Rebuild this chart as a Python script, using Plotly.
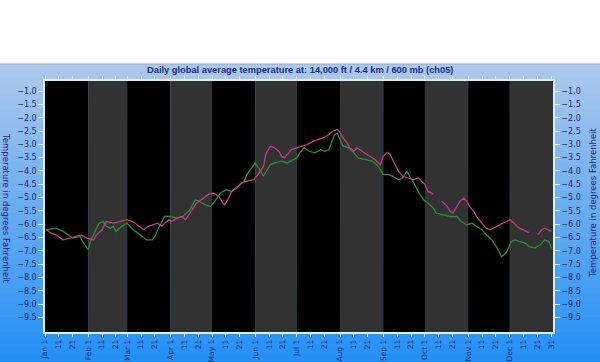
import plotly.graph_objects as go

# ---------------- data ----------------
month_names = ["Jan", "Feb", "Mar", "Apr", "May", "Jun", "Jul", "Aug", "Sep", "Oct", "Nov", "Dec"]
month_start_day = [1, 32, 60, 91, 121, 152, 182, 213, 244, 274, 305, 335]
year_end_day = 366

green_days = [2, 9, 14, 19, 21, 26, 28, 32, 34, 37, 40, 43, 45, 48, 50, 52, 56, 60, 62, 66, 69, 74, 78, 80, 82, 85, 87,
              91, 96, 100, 105, 109, 112, 116, 120, 123, 127, 129, 131, 135, 138, 141, 144, 146, 150, 152, 156, 158,
              160, 163, 166, 171, 175, 178, 182, 184, 187, 191, 195, 199, 202, 205, 207, 209, 211, 213, 215, 219,
              223, 226, 231, 236, 239, 242, 244, 248, 251, 255, 258, 261, 263, 266, 269, 273, 276, 280, 282, 287,
              292, 297, 300, 304, 308, 311, 315, 318, 322, 326, 329, 332, 334, 336, 339, 342, 346, 349, 353, 357,
              360, 363, 365]
green_vals = [-6.21, -6.15, -6.27, -6.46, -6.52, -6.46, -6.65, -6.96, -6.59, -6.27, -5.96, -5.90, -6.08, -6.15, -6.08,
              -6.27, -6.08, -5.96, -6.08, -6.27, -6.40, -6.59, -6.59, -6.46, -6.21, -5.90, -5.71,
              -5.71, -5.77, -5.71, -5.46, -5.08, -5.14, -5.27, -5.33, -5.14, -4.83, -4.77, -4.70, -4.77, -4.64, -4.51,
              -4.39, -4.14, -3.82, -3.70, -4.01, -4.20,
              -4.01, -3.76, -3.70, -3.63, -3.70, -3.63, -3.51, -3.32, -3.13, -3.26, -3.32, -3.20, -3.26, -3.20, -2.88,
              -2.63, -2.59, -2.82, -3.05, -3.13,
              -3.32, -3.51, -3.57, -3.63, -3.76, -3.95, -4.14, -4.14, -4.20, -4.33, -4.26, -4.01, -4.20, -4.45, -4.77,
              -5.08, -5.20, -5.39, -5.58, -5.64,
              -5.71, -5.71, -5.90, -6.02, -5.96, -6.08, -6.21, -6.39, -6.59, -6.90, -7.22, -7.09, -6.90, -6.65, -6.59,
              -6.65, -6.71, -6.84, -6.90, -6.77,
              -6.59, -6.65, -6.90]

pink_days = [2, 5, 9, 14, 19, 24, 27, 31, 36, 38, 42, 45, 50, 55, 60, 64, 69, 72, 75, 79, 82, 85, 87, 90, 92,
             96, 99, 102, 105, 110, 115, 118, 122, 126, 128, 130, 133, 135, 139, 142, 146, 151, 154, 158, 160, 163,
             166, 169, 171, 173, 176, 178, 182, 185, 189, 194, 197, 201, 205, 208, 211, 213, 215, 218, 220, 223,
             225, 227, 231, 235, 238, 242, 244, 247, 249, 252, 255, 258, 262, 266, 269, 272, 274, 276, 279, 280,
             283, 286, 290, 292, 294, 297, 299, 302, 304, 306, 309, 311, 315, 318, 321, 323, 327, 330, 333, 335,
             338, 340, 342, 345, 347, 349, 352, 355, 358, 360, 363, 365]
pink_vals = [-6.21, -6.33, -6.40, -6.59, -6.52, -6.46, -6.40, -6.52, -6.59, -6.40, -6.21, -5.90, -5.96, -5.90, -5.83,
             -5.90, -6.08, -6.21, -6.08, -6.02, -5.96, -6.08, -5.96, -5.83, -5.90,
             -5.77, -5.71, -5.83, -5.58, -5.20, -5.02, -4.89, -4.83, -4.96, -5.14, -5.27, -5.02, -4.77, -4.64, -4.45,
             -4.39, -4.33, -4.14, -3.82, -3.32, -3.07,
             -3.13, -3.26, -3.45, -3.51, -3.32, -3.20, -3.13, -3.07, -3.01, -2.88, -2.82, -2.75, -2.63, -2.50, -2.44,
             -2.54, -2.75, -2.94, -3.13, -3.26,
             -3.13, -3.20, -3.32, -3.45, -3.57, -3.76, -3.45, -3.30, -3.38, -3.70, -4.01, -4.20, -4.26, -4.33, -4.26,
             -4.39, -4.51, -4.77, -4.83, -4.89,
             None, -5.14, -5.33, -5.52, -5.58, -5.33, -5.14, -5.02, -5.14, -5.33, -5.52, -5.71, -5.96, -6.15, -6.21,
             -6.15, -6.02, -5.96, -5.90, -5.83,
             -5.96, -6.08, -6.15, -6.21, -6.27, -6.33, None, -6.39, -6.21, -6.15, -6.21, -6.27]

y_tick_vals = [-1.0, -1.5, -2.0, -2.5, -3.0, -3.5, -4.0, -4.5, -5.0, -5.5, -6.0, -6.5, -7.0, -7.5, -8.0, -8.5, -9.0, -9.5]
y_range = [-10.05, -0.62]
x_range = [1, 366]

title_text = "Daily global average temperature at: 14,000 ft / 4.4 km / 600 mb (ch05)"
y_title = "Temperature in degrees Fahrenheit"

# x ticks: 1st, 11th, 21st of each month + Dec 31
x_tick_vals, x_tick_text = [], []
for name, start in zip(month_names, month_start_day):
    x_tick_vals += [start, start + 10, start + 20]
    x_tick_text += [f"{name} 1", "11", "21"]
x_tick_vals.append(365)
x_tick_text.append("31")

# ---------------- layout geometry ----------------
W, H = 600, 362
ML, MR, MT, MB = 45, 47, 81, 30
PW, PH = W - ML - MR, H - MT - MB

def px_x(px):
    return (px - ML) / PW

def px_y(py):
    return (H - MB - py) / PH

NAVY = "#1c2878"
AXLINE = "#d8f0f0"

shapes = []
# blue gradient background
top_px, bot_px = 64, H
n = 40
c0 = (172, 200, 236)
c1 = (36, 144, 244)
for i in range(n):
    t = i / (n - 1)
    c = tuple(int(round(a + (b - a) * t)) for a, b in zip(c0, c1))
    y_a = top_px + (bot_px - top_px) * i / n
    y_b = top_px + (bot_px - top_px) * (i + 1) / n + 1
    shapes.append(dict(type="rect", xref="paper", yref="paper", layer="below",
                       x0=px_x(0), x1=px_x(W), y0=px_y(y_b), y1=px_y(y_a),
                       line=dict(width=0), fillcolor=f"rgb{c}"))
# thin border at top of blue area
shapes.append(dict(type="line", xref="paper", yref="paper", layer="below",
                   x0=px_x(0), x1=px_x(W), y0=px_y(top_px), y1=px_y(top_px),
                   line=dict(color="#9aa6b4", width=1)))
# alternating month bands
bounds = month_start_day + [year_end_day]
for i in range(len(month_names)):
    shapes.append(dict(type="rect", xref="x", yref="paper", layer="below",
                       x0=bounds[i], x1=bounds[i + 1], y0=0, y1=1,
                       line=dict(width=0),
                       fillcolor="#000000" if i % 2 == 0 else "#323232"))

fig = go.Figure()
fig.add_trace(go.Scatter(x=green_days, y=green_vals, mode="lines",
                         line=dict(color="#2f8c3a", width=1.3), connectgaps=False,
                         showlegend=False, hoverinfo="skip"))
fig.add_trace(go.Scatter(x=pink_days, y=pink_vals, mode="lines",
                         line=dict(color="#c43c84", width=1.3), connectgaps=False,
                         showlegend=False, hoverinfo="skip"))
# invisible trace so the right axis is drawn
fig.add_trace(go.Scatter(x=[x_range[0]], y=[y_range[0]], yaxis="y2", mode="markers",
                         marker=dict(opacity=0), showlegend=False, hoverinfo="skip"))

tick_font = dict(family="DejaVu Sans", size=8, color=NAVY)
x_tick_font = dict(family="DejaVu Sans", size=7.5, color=NAVY)

fig.update_layout(
    width=W, height=H,
    margin=dict(l=ML, r=MR, t=MT, b=MB, pad=0, autoexpand=False),
    paper_bgcolor="white",
    plot_bgcolor="rgba(0,0,0,0)",
    shapes=shapes,
    xaxis=dict(range=x_range, tickmode="array", tickvals=x_tick_vals, ticktext=x_tick_text,
               tickangle=-90, tickfont=x_tick_font, ticks="outside", ticklen=3, tickwidth=1,
               tickcolor=AXLINE, showline=True, linecolor=AXLINE, linewidth=1.5, mirror="ticks",
               showgrid=False, zeroline=False, automargin=False),
    yaxis=dict(range=y_range, tickmode="array", tickvals=y_tick_vals, tickformat=".1f",
               tickfont=tick_font, ticks="outside", ticklen=5, tickwidth=1, tickcolor=AXLINE,
               showline=True, linecolor=AXLINE, linewidth=1.5, showgrid=False, zeroline=False,
               automargin=False),
    yaxis2=dict(range=y_range, tickmode="array", tickvals=y_tick_vals, tickformat=".1f",
                overlaying="y", side="right", anchor="x",
                tickfont=tick_font, ticks="outside", ticklen=5, tickwidth=1, tickcolor=AXLINE,
                showline=True, linecolor=AXLINE, linewidth=1.5, showgrid=False, zeroline=False,
                automargin=False),
    annotations=[
        dict(text=f"<b>{title_text}</b>", xref="paper", yref="paper",
             x=px_x(300), y=px_y(70), xanchor="center", yanchor="middle", showarrow=False,
             font=dict(family="Liberation Sans", size=9.3, color="#1a2a8c")),
        dict(text=y_title, xref="paper", yref="paper", x=px_x(6), y=px_y(208),
             xanchor="center", yanchor="middle", textangle=90, showarrow=False,
             font=dict(family="DejaVu Sans", size=8.5, color=NAVY)),
        dict(text=y_title, xref="paper", yref="paper", x=px_x(593), y=px_y(203),
             xanchor="center", yanchor="middle", textangle=-90, showarrow=False,
             font=dict(family="DejaVu Sans", size=8.5, color=NAVY)),
    ],
)

fig.write_html("out.html", config={"displayModeBar": False},
               post_script="document.body.style.margin='0';document.body.style.overflow='hidden';")
